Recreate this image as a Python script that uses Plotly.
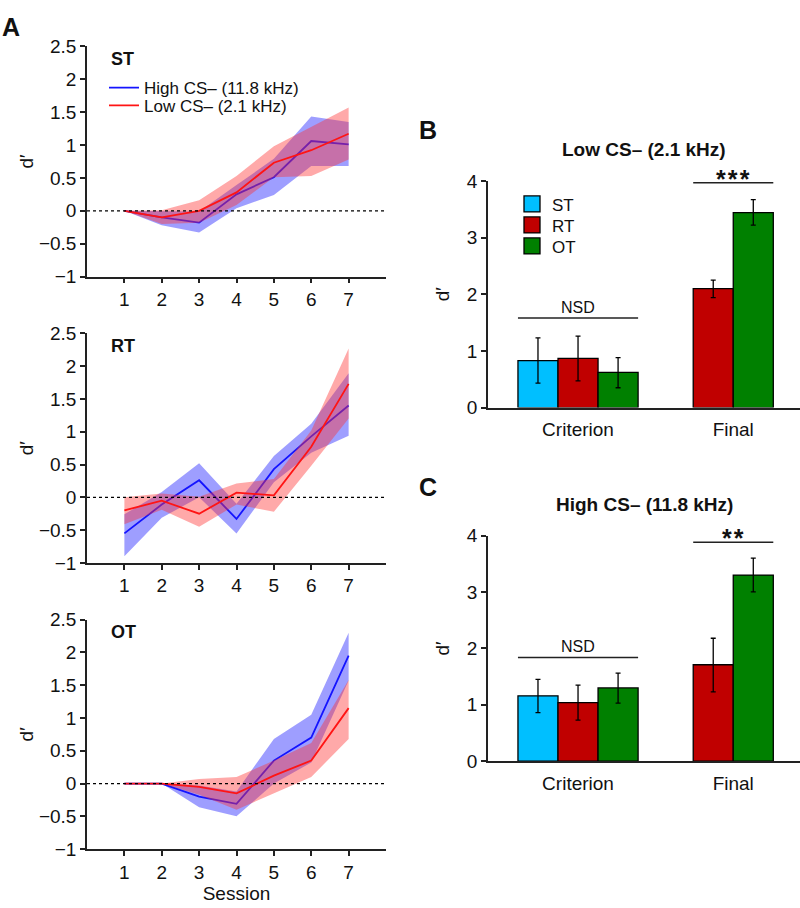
import plotly.graph_objects as go

# ---------------- data ----------------
sessions = [1, 2, 3, 4, 5, 6, 7]

# Panel A - ST
st_high = [0, -0.10, -0.18, 0.25, 0.51, 1.06, 1.01]
st_high_lo = [0, -0.22, -0.33, 0.04, 0.24, 0.68, 0.68]
st_high_hi = [0, 0.00, -0.01, 0.39, 0.79, 1.43, 1.35]
st_low = [0, -0.10, 0.00, 0.28, 0.73, 0.92, 1.17]
st_low_lo = [0, -0.20, -0.18, 0.09, 0.51, 0.53, 0.78]
st_low_hi = [0, 0.01, 0.16, 0.53, 0.98, 1.28, 1.57]

# Panel A - RT
rt_high = [-0.55, -0.11, 0.26, -0.33, 0.43, 0.93, 1.40]
rt_high_lo = [-0.90, -0.31, 0.00, -0.55, 0.23, 0.68, 0.94]
rt_high_hi = [-0.26, 0.08, 0.52, -0.10, 0.63, 1.12, 1.89]
rt_low = [-0.20, -0.05, -0.25, 0.07, 0.03, 0.77, 1.73]
rt_low_lo = [-0.41, -0.19, -0.45, -0.11, -0.22, 0.48, 1.20]
rt_low_hi = [0.00, 0.06, 0.01, 0.21, 0.28, 1.02, 2.27]

# Panel A - OT
ot_high = [0, 0, -0.20, -0.31, 0.35, 0.70, 1.95]
ot_high_lo = [0, 0, -0.36, -0.50, 0.00, 0.32, 1.57]
ot_high_hi = [0, 0, -0.03, -0.12, 0.68, 1.05, 2.30]
ot_low = [0, 0, -0.05, -0.15, 0.12, 0.35, 1.15]
ot_low_lo = [0, 0, -0.17, -0.40, -0.15, 0.10, 0.68]
ot_low_hi = [0, 0, 0.07, 0.10, 0.35, 0.62, 1.58]

# Panels B / C
groups = ["Criterion", "Final"]
conditions = ["ST", "RT", "OT"]
# Low CS- (2.1 kHz)
low_crit = [0.83, 0.87, 0.62]
low_crit_lo = [0.43, 0.47, 0.35]
low_crit_hi = [1.23, 1.26, 0.88]
low_final = [None, 2.10, 3.44]
low_final_lo = [None, 1.94, 3.22]
low_final_hi = [None, 2.25, 3.67]
# High CS- (11.8 kHz)
high_crit = [1.16, 1.04, 1.30]
high_crit_lo = [0.86, 0.73, 1.03]
high_crit_hi = [1.45, 1.35, 1.56]
high_final = [None, 1.71, 3.30]
high_final_lo = [None, 1.23, 3.00]
high_final_hi = [None, 2.18, 3.60]

# ---------------- style ----------------
FONT = "Liberation Sans, Arial, sans-serif"
W, H = 800, 908
BLUE = "#1414FF"
RED = "#FF1414"
BLUE_BAND = "rgba(40,40,255,0.45)"
RED_BAND = "rgba(255,50,50,0.42)"
BAR_COLORS = {"ST": "#00BFFF", "RT": "#C00000", "OT": "#008000"}
AX = "#222222"
TXT = "#111111"
TICK = 19


def px_x(p):
    return p / W


def px_y(p):
    return 1 - p / H


fig = go.Figure()

panels_a = [
    ("ST", st_high, st_high_lo, st_high_hi, st_low, st_low_lo, st_low_hi, (37, 273)),
    ("RT", rt_high, rt_high_lo, rt_high_hi, rt_low, rt_low_lo, rt_low_hi, (331, 566)),
    ("OT", ot_high, ot_high_lo, ot_high_hi, ot_low, ot_low_lo, ot_low_hi, (624, 859)),
]

for i, (name, hi, hi_lo, hi_hi, lo, lo_lo, lo_hi, ypx) in enumerate(panels_a):
    n = i + 1
    xa = "x" if n == 1 else f"x{n}"
    ya = "y" if n == 1 else f"y{n}"
    show = n == 1
    band_x = sessions + sessions[::-1]
    fig.add_trace(go.Scatter(x=band_x, y=hi_hi + hi_lo[::-1], fill="toself",
                             fillcolor=BLUE_BAND, line=dict(width=0), mode="lines",
                             hoverinfo="skip", showlegend=False, xaxis=xa, yaxis=ya))
    fig.add_trace(go.Scatter(x=sessions, y=hi, mode="lines", line=dict(color=BLUE, width=1.8),
                             name="High CS\u2013 (11.8 kHz)", showlegend=show, legend="legend",
                             xaxis=xa, yaxis=ya))
    fig.add_trace(go.Scatter(x=band_x, y=lo_hi + lo_lo[::-1], fill="toself",
                             fillcolor=RED_BAND, line=dict(width=0), mode="lines",
                             hoverinfo="skip", showlegend=False, xaxis=xa, yaxis=ya))
    fig.add_trace(go.Scatter(x=sessions, y=lo, mode="lines", line=dict(color=RED, width=1.8),
                             name="Low CS\u2013 (2.1 kHz)", showlegend=show, legend="legend3",
                             xaxis=xa, yaxis=ya))

    fig.add_shape(type="line", xref=f"{xa} domain", yref=ya, x0=0, x1=1, y0=0, y1=0,
                  line=dict(color="black", width=1.3, dash="dot"))

    xkey = "xaxis" if n == 1 else f"xaxis{n}"
    ykey = "yaxis" if n == 1 else f"yaxis{n}"
    fig.update_layout({
        xkey: dict(domain=[px_x(87), px_x(386)], anchor=ya, range=[0, 8],
                   tickmode="array", tickvals=sessions, ticks="outside", ticklen=5,
                   tickwidth=1.5, tickcolor=AX, showline=True, linecolor=AX, linewidth=1.5,
                   showgrid=False, zeroline=False, fixedrange=True,
                   tickfont=dict(size=TICK, color=TXT),
                   title=dict(text="Session" if n == 3 else "", font=dict(size=TICK, color=TXT),
                              standoff=3)),
        ykey: dict(domain=[px_y(ypx[1]), px_y(ypx[0])], anchor=xa, range=[-1, 2.5],
                   tickmode="linear", tick0=-1, dtick=0.5, ticks="outside", ticklen=5,
                   tickwidth=1.5, tickcolor=AX, showline=True, linecolor=AX, linewidth=1.5,
                   showgrid=False, zeroline=False, fixedrange=True,
                   tickfont=dict(size=TICK, color=TXT),
                   title=dict(text="d\u2032", font=dict(size=19, color=TXT), standoff=0)),
    })
    fig.add_annotation(text=f"<b>{name}</b>", x=px_x(109), y=px_y(ypx[0] + 13),
                       xref="paper", yref="paper", xanchor="left", yanchor="middle",
                       showarrow=False, font=dict(size=18, color=TXT))

# ---------------- bars ----------------
w = 0.258
bar_panels = [
    (4, low_crit, low_crit_lo, low_crit_hi, low_final, low_final_lo, low_final_hi, (175, 407),
     "Low CS\u2013 (2.1 kHz)", 1.58, 3.97, "*\u200a*\u200a*"),
    (5, high_crit, high_crit_lo, high_crit_hi, high_final, high_final_lo, high_final_hi, (538, 769),
     "High CS\u2013 (11.8 kHz)", 1.84, 3.88, "*\u200a*"),
]
for (n, crit, crit_lo, crit_hi, fin, fin_lo, fin_hi, ypx, title, nsd_y, sig_y, sig_txt) in bar_panels:
    xa, ya = f"x{n}", f"y{n}"
    for j, cond in enumerate(conditions):
        xs, ys, up, dn = [], [], [], []
        xs.append(1 + (j - 1) * w)
        ys.append(crit[j])
        up.append(crit_hi[j] - crit[j])
        dn.append(crit[j] - crit_lo[j])
        if fin[j] is not None:
            xs.append(2 + (j - 1.5) * w)
            ys.append(fin[j])
            up.append(fin_hi[j] - fin[j])
            dn.append(fin[j] - fin_lo[j])
        fig.add_trace(go.Bar(x=xs, y=ys, width=w, name=cond,
                             marker=dict(color=BAR_COLORS[cond], line=dict(color="black", width=1.3)),
                             error_y=dict(type="data", symmetric=False, array=up, arrayminus=dn,
                                          color="black", thickness=1.3, width=2.5),
                             showlegend=False, xaxis=xa, yaxis=ya))
    fig.update_layout({
        f"xaxis{n}": dict(domain=[px_x(488), 1.0], anchor=ya, range=[0.42, 2.43],
                          tickmode="array", tickvals=[1, 2], ticktext=groups, ticks="",
                          ticklabelstandoff=4,
                          showline=True, linecolor=AX, linewidth=1.5, showgrid=False,
                          zeroline=False, fixedrange=True, tickfont=dict(size=TICK, color=TXT)),
        f"yaxis{n}": dict(domain=[px_y(ypx[1]), px_y(ypx[0])], anchor=xa, range=[0, 4],
                          tickmode="linear", tick0=0, dtick=1, ticks="outside", ticklen=5,
                          tickwidth=1.5, tickcolor=AX, showline=True, linecolor=AX, linewidth=1.5,
                          showgrid=False, zeroline=False, fixedrange=True,
                          tickfont=dict(size=TICK, color=TXT),
                          title=dict(text="d\u2032", font=dict(size=19, color=TXT), standoff=12)),
    })
    # significance lines
    fig.add_shape(type="line", xref=xa, yref=ya, x0=1 - 1.5 * w, x1=1 + 1.5 * w, y0=nsd_y, y1=nsd_y,
                  line=dict(color="#222", width=1.5))
    fig.add_annotation(text="NSD", xref=xa, yref=ya, x=1, y=nsd_y, yanchor="middle", yshift=11,
                       showarrow=False, font=dict(size=16, color=TXT))
    fig.add_shape(type="line", xref=xa, yref=ya, x0=2 - w, x1=2 + w, y0=sig_y, y1=sig_y,
                  line=dict(color="#222", width=1.5))
    fig.add_annotation(text=f"<b>{sig_txt}</b>", xref=xa, yref=ya, x=2, y=sig_y, yanchor="middle",
                       yshift=4, showarrow=False, font=dict(size=25, color=TXT))
    fig.add_annotation(text=f"<b>{title}</b>", xref="paper", yref="paper", x=px_x(644),
                       y=px_y(ypx[0] - 32), xanchor="center", yanchor="middle", showarrow=False,
                       font=dict(size=19, color=TXT))

# legend-only entries for the bar colours (panel B)
bar_legends = {"ST": ("legend2", 199), "RT": ("legend4", 220.5), "OT": ("legend5", 242)}
for cond in conditions:
    lg, _ = bar_legends[cond]
    fig.add_trace(go.Scatter(x=[None], y=[None], mode="markers", name=cond,
                             marker=dict(symbol="square", size=16, color=BAR_COLORS[cond],
                                         line=dict(color="black", width=1.3)),
                             showlegend=True, legend=lg, xaxis="x4", yaxis="y4"))

# panel letters
for letter, (lx, ly) in {"A": (11, 17), "B": (428, 123), "C": (428, 488)}.items():
    fig.add_annotation(text=f"<b>{letter}</b>", xref="paper", yref="paper", x=px_x(lx), y=px_y(ly),
                       xanchor="center", yanchor="middle", showarrow=False,
                       font=dict(size=25, color=TXT))

leg_common = dict(xanchor="left", yanchor="middle", bgcolor="rgba(0,0,0,0)",
                  font=dict(size=17, color=TXT), borderwidth=0)
layout_legends = {
    "legend": dict(x=px_x(104), y=px_y(80), **leg_common),
    "legend3": dict(x=px_x(104), y=px_y(98), **leg_common),
}
for cond in conditions:
    lg, yy = bar_legends[cond]
    layout_legends[lg] = dict(x=px_x(512), y=px_y(yy), **leg_common)

fig.update_layout(
    width=W, height=H, margin=dict(l=0, r=0, t=0, b=0),
    paper_bgcolor="white", plot_bgcolor="white",
    font=dict(family=FONT, color=TXT),
    barmode="overlay",
    **layout_legends,
)

fig.write_html("out.html", config={"displayModeBar": False},
               post_script="document.body.style.margin='0px';document.body.style.overflow='hidden';")
